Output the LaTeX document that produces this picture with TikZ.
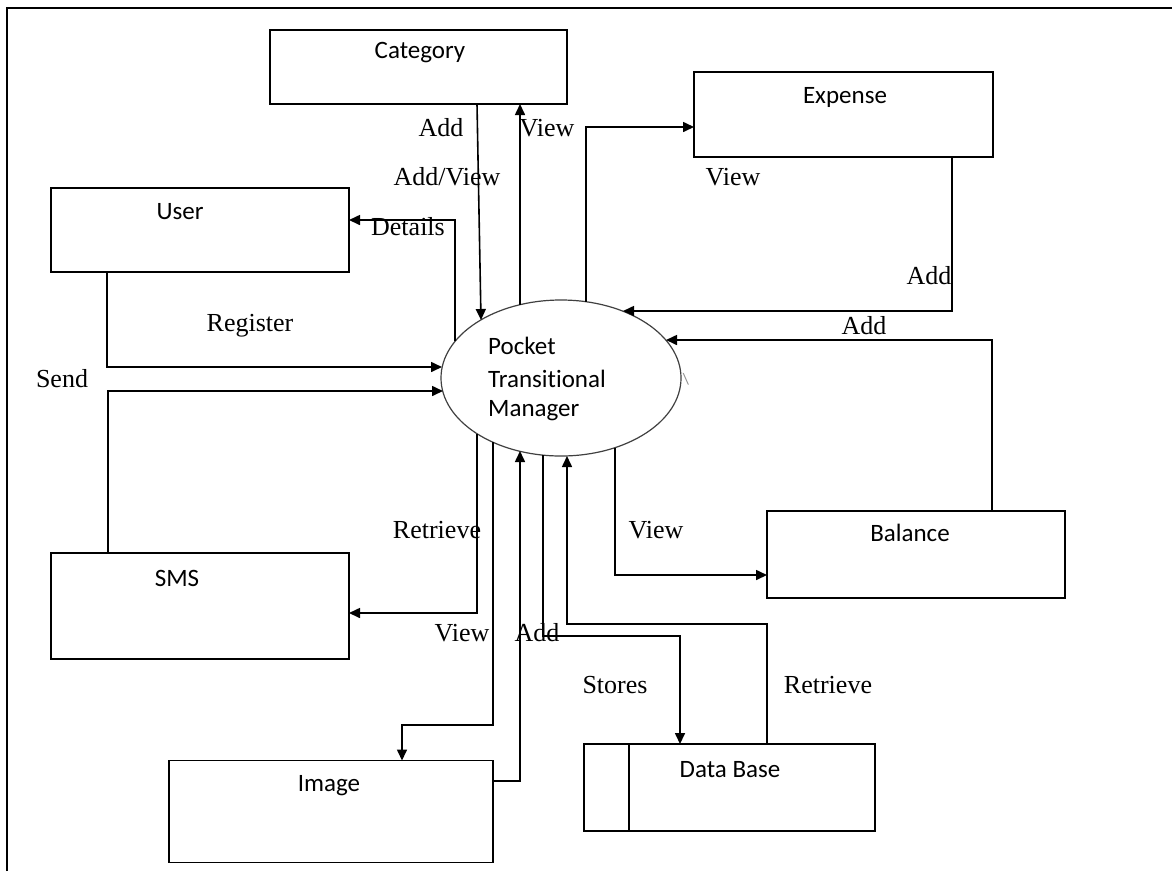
\documentclass[tikz,border=0pt]{standalone}
\usepackage{fontspec}
\setmainfont{Liberation Serif}
\newfontfamily\boxfont[Ligatures=NoCommon]{Carlito}
\usetikzlibrary{arrows.meta,shapes.geometric,calc}
\begin{document}
\begin{tikzpicture}[x=1pt,y=-1pt,
  box/.style={draw, line width=1.6pt, rectangle, inner sep=0pt, outer sep=0pt},
  blabel/.style={font=\boxfont\fontsize{25}{30}\selectfont, inner sep=0pt},
  flabel/.style={font=\fontsize{26}{30}\selectfont, inner sep=0pt},
  flow/.style={line width=1.6pt, -{Triangle[length=11pt,width=10pt]}},
  plain/.style={line width=1.6pt}]
\useasboundingbox (0,0) rectangle (1172,871);
\fill[white] (0,0) rectangle (1172,871);
% frame
\draw[line width=2.4pt] (7,871) -- (7,8) -- (1172,8);

% helper coordinates
\foreach \xv in {107,108,349,402,455,477,520,586,629,680,767,952,992}{\coordinate (x\xv) at (\xv,0);}
\foreach \yv in {127,220,575,613,624,636,725,781}{\coordinate (y\yv) at (0,\yv);}

% boxes
\node[box, minimum width=297pt, minimum height=74pt] (cat) at (418.5,67) {};
\node[box, minimum width=299pt, minimum height=85pt] (exp) at (843.5,114.5) {};
\node[box, minimum width=298pt, minimum height=84pt] (user) at (200,230) {};
\node[box, minimum width=298pt, minimum height=87pt] (bal) at (916,554.5) {};
\node[box, minimum width=298pt, minimum height=106pt] (sms) at (200,606) {};
\node[box, minimum width=324pt, minimum height=102pt] (img) at (331,811.5) {};
\node[box, minimum width=291pt, minimum height=87pt] (db) at (729.5,787.5) {};
\draw[plain] (db.north -| x629) -- (db.south -| x629);

% ellipse
\node[draw, ellipse, line width=1.2pt, draw=black!75, minimum width=240pt, minimum height=156pt, inner sep=0pt, outer sep=0pt] (ell) at (561,378) {};
\coordinate (eA) at ($(ell.center)+(-80,-58)$);
\coordinate (eB) at ($(ell.center)+(-41,-73)$);
\coordinate (eC) at ($(ell.center)+(-106,-37)$);
\coordinate (eD) at ($(ell.center)+(-119,-11)$);
\coordinate (eE) at ($(ell.center)+(-118,13)$);
\coordinate (eF) at ($(ell.center)+(25,-76)$);
\coordinate (eG) at ($(ell.center)+(62,-67)$);
\coordinate (eH) at ($(ell.center)+(105,-38)$);
\coordinate (eI) at ($(ell.center)+(54,70)$);
\coordinate (eJ) at ($(ell.center)+(-84,56)$);
\coordinate (eK) at ($(ell.center)+(-68,64)$);
\coordinate (eL) at ($(ell.center)+(-41,73)$);
\coordinate (eM) at ($(ell.center)+(-18,77)$);
\coordinate (eN) at ($(ell.center)+(6,78)$);

% box labels
\node[blabel] (catl) at (420,53) {Category};
\node[blabel] (expl) at (845,97) {Expense};
\node[blabel] (userl) at (180,212) {User};
\node[blabel] (ball) at (910,533) {Balance};
\node[blabel] (smsl) at (177,578) {SMS};
\node[blabel] (imgl) at (329,786) {Image};
\node[blabel] (dbl) at (730,770) {Data Base};
\node[blabel, anchor=west] (p1) at (488,346) {Pocket};
\node[blabel, anchor=west] (p2) at (488,379) {Transitional};
\node[blabel, anchor=west] (p3) at (488,411) {Manager};
\node[font=\boxfont\fontsize{16}{18}\selectfont, text=black!45, inner sep=0pt] (bs) at (686,379) {\textbackslash};

% connectors
\draw[flow] (cat.south -| x477) -- (eA);
\draw[flow] (eB) -- (cat.south -| x520);
\draw[flow] (eC) |- (user.east |- y220);
\draw[flow] (user.south -| x107) |- (eD);
\draw[flow] (sms.north -| x108) |- (eE);
\draw[flow] (eF) |- (exp.west |- y127);
\draw[flow] (exp.south -| x952) |- (eG);
\draw[flow] (bal.north -| x992) |- (eH);
\draw[flow] (eI) |- (bal.west |- y575);
\draw[flow] (eJ) |- (sms.east |- y613);
\draw[flow] (eK) |- (x402 |- y725) -- (img.north -| x402);
\draw[flow] (img.east |- y781) -| (eL);
\draw[flow] (eM) |- (x680 |- y636) -- (db.north -| x680);
\draw[flow] (db.north -| x767) |- (eN |- y624) -- (eN);

% flow labels
\node[flabel] (l1) at (441,128) {Add};
\node[flabel] (l2) at (547,128) {View};
\node[flabel] (l3) at (447,177) {Add/View};
\node[flabel] (l4) at (408,227) {Details};
\node[flabel] (l5) at (250,326) {Register};
\node[flabel] (l6) at (62,379) {Send};
\node[flabel] (l7) at (733,177) {View};
\node[flabel] (l8) at (929,276) {Add};
\node[flabel] (l9) at (864,326) {Add};
\node[flabel] (l10) at (656,530) {View};
\node[flabel] (l11) at (437,530) {Retrieve};
\node[flabel] (l12) at (462,633) {View};
\node[flabel] (l13) at (537,633) {Add};
\node[flabel] (l14) at (615,685) {Stores};
\node[flabel] (l15) at (828,685) {Retrieve};
\end{tikzpicture}
\end{document}
